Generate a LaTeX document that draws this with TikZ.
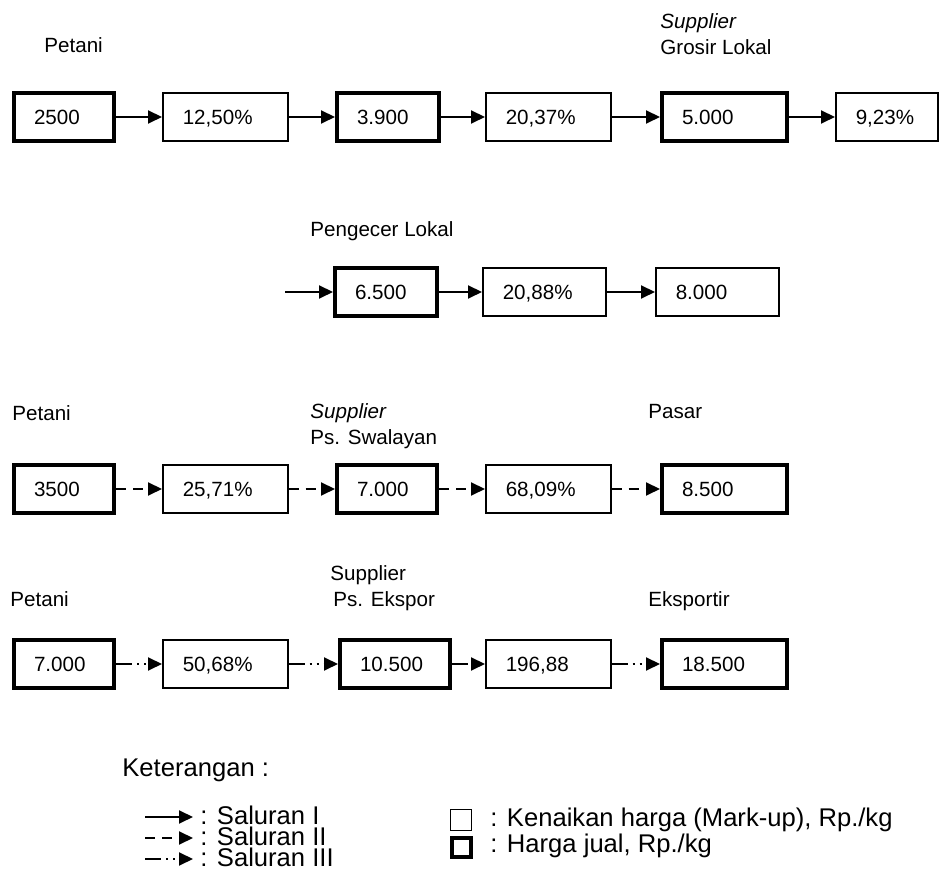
\documentclass[tikz,border=0pt]{standalone}
\usepackage{fontspec}
\setmainfont{Liberation Sans}
\usetikzlibrary{arrows.meta}
\newcommand{\lblfont}{\fontsize{10.3}{12.4}\selectfont}
\newcommand{\ketfont}{\fontsize{12.8}{15.4}\selectfont}
\tikzset{
  box/.style  = {rectangle, draw=black, line width=0.75pt, minimum height=24pt,
                 inner xsep=10pt, inner ysep=0pt, text height=7.4pt, text depth=0pt,
                 align=left, anchor=west, font=\lblfont},
  naik/.style = {box, text width=#1},
  jual/.style = {box, line width=2pt, text width=#1},
  lbl/.style  = {anchor=base west, inner sep=0pt, font=\lblfont},
  ket/.style  = {anchor=base west, inner sep=0pt, font=\ketfont},
  sal1/.style = {-{Triangle[length=7pt,width=6.5pt]}, line width=1pt},
  sal2/.style = {sal1, dash pattern=on 5pt off 3.5pt},
  sal3/.style = {sal1, dash pattern=on 8pt off 2.5pt on 1pt off 2.5pt on 1pt off 2.5pt},
}

\begin{document}
\begin{tikzpicture}[x=0.5pt,y=-0.5pt]
  \useasboundingbox (0,0) rectangle (949,876);

  % saluran I : petani - supplier grosir lokal
  \node[lbl] (lpet1) at (44,53) {Petani};
  \node[lbl] (lsup1) at (660,29) {\textit{Supplier}};
  \node[lbl] (lgro1) at (660,55) {Grosir Lokal};
  \node[jual=30pt]   (a1) at (12,117)  {2500};
  \node[naik=42.5pt] (a2) at (162,117) {12,50\%};
  \node[jual=31pt]   (a3) at (335,117) {3.900};
  \node[naik=42.5pt] (a4) at (485,117) {20,37\%};
  \node[jual=42.5pt] (a5) at (660,117) {5.000};
  \node[naik=31pt]   (a6) at (835,117) {9,23\%};
  \foreach \a/\b in {a1/a2, a2/a3, a3/a4, a4/a5, a5/a6}{
    \draw[sal1] (\a) -- (\b);
  }

  % saluran I : pengecer lokal
  \node[lbl] (lpeng) at (310,237) {Pengecer Lokal};
  \coordinate (b0) at (285,292);
  \node[jual=31pt]   (b1) at (333,292) {6.500};
  \node[naik=41.5pt] (b2) at (482,292) {20,88\%};
  \node[naik=41.5pt] (b3) at (655,292) {8.000};
  \foreach \a/\b in {b0/b1, b1/b2, b2/b3}{
    \draw[sal1] (\a) -- (\b);
  }

  % saluran II : pasar swalayan
  \node[lbl] (lpet2) at (12,421)  {Petani};
  \node[lbl] (lsup2) at (310,419) {\textit{Supplier}};
  \node[lbl] (lswa)  at (310,445) {Ps. Swalayan};
  \node[lbl] (lpas)  at (648,419) {Pasar};
  \node[jual=30pt]   (c1) at (12,489)  {3500};
  \node[naik=42.5pt] (c2) at (162,489) {25,71\%};
  \node[jual=30pt]   (c3) at (335,489) {7.000};
  \node[naik=42.5pt] (c4) at (485,489) {68,09\%};
  \node[jual=42.5pt] (c5) at (660,489) {8.500};
  \foreach \a/\b in {c1/c2, c2/c3, c3/c4, c4/c5}{
    \draw[sal2] (\a) -- (\b);
  }

  % saluran III : ekspor
  \node[lbl] (lsup3) at (330,581) {Supplier};
  \node[lbl] (lpet3) at (10,607)  {Petani};
  \node[lbl] (leks)  at (333,607) {Ps. Ekspor};
  \node[lbl] (lekt)  at (648,607) {Eksportir};
  \node[jual=30pt]   (d1) at (12,664)  {7.000};
  \node[naik=42.5pt] (d2) at (162,664) {50,68\%};
  \node[jual=35pt]   (d3) at (338,664) {10.500};
  \node[naik=42.5pt] (d4) at (485,664) {196,88};
  \node[jual=42.5pt] (d5) at (660,664) {18.500};
  \foreach \a/\b in {d1/d2, d2/d3, d3/d4, d4/d5}{
    \draw[sal3] (\a) -- (\b);
  }

  % keterangan
  \node[ket] (ket) at (122,777) {Keterangan :};
  \coordinate (s1a) at (145,817); \coordinate (s1b) at (193,817);
  \coordinate (s2a) at (145,838); \coordinate (s2b) at (193,838);
  \coordinate (s3a) at (145,859); \coordinate (s3b) at (193,859);
  \draw[sal1] (s1a) -- (s1b);
  \draw[sal2] (s2a) -- (s2b);
  \draw[sal3] (s3a) -- (s3b);
  \node[ket] (t1) at (200,825) {: Saluran I};
  \node[ket] (t2) at (200,846) {: Saluran II};
  \node[ket] (t3) at (200,867) {: Saluran III};
  \node[draw, line width=0.75pt, minimum size=10.5pt, inner sep=0pt] (kn) at (461,820) {};
  \node[draw, line width=2pt, minimum size=9.5pt, inner sep=0pt] (kj) at (461,848) {};
  \node[ket] (tkn) at (490,827) {: Kenaikan harga (Mark-up), Rp./kg};
  \node[ket] (tkj) at (490,853) {: Harga jual, Rp./kg};
\end{tikzpicture}
\end{document}
